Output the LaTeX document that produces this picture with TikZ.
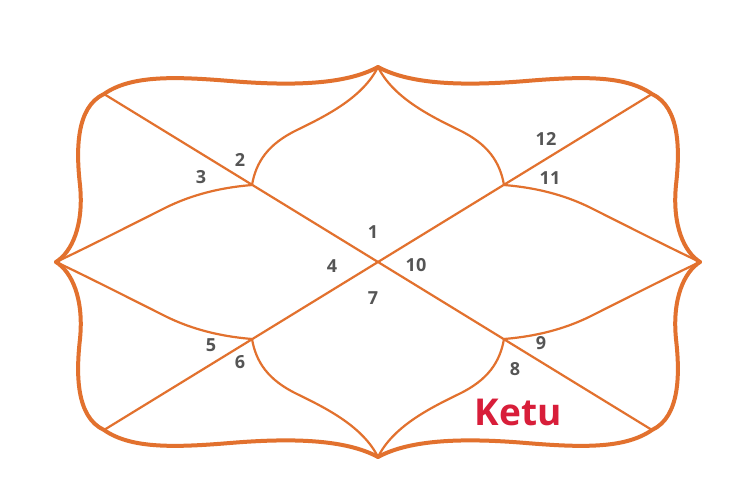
\documentclass[tikz,border=0pt]{standalone}
\usepackage{fontspec}
\setmainfont{Open Sans}
\definecolor{chartorange}{HTML}{E2712E}
\definecolor{numgrey}{HTML}{555555}
\definecolor{ketured}{HTML}{D81E3A}
\tikzset{
  frameline/.style={draw=chartorange, line width=4pt, line join=round, line cap=round},
  innerline/.style={draw=chartorange, line width=2.2pt, line join=round, line cap=round},
  housenum/.style={text=numgrey, font=\bfseries\fontsize{18}{20}\selectfont, inner sep=0pt},
  planet/.style={text=ketured, font=\bfseries\fontsize{37}{40}\selectfont, inner sep=0pt}
}
\begin{document}
\begin{tikzpicture}[x=1pt,y=1pt]
\useasboundingbox (-378,-238) rectangle (372,262);
\fill[white] (-378,-238) rectangle (372,262);
% key points
\coordinate (TL) at (-274,168);
\coordinate (TR) at (274,168);
\coordinate (BL) at (-274,-168);
\coordinate (BR) at (274,-168);
\coordinate (C) at (0,0);
% frame and inner curves, one quadrant reflected four times
\foreach \sx/\sy in {1/1,-1/1,1/-1,-1/-1}{
  \begin{scope}[xscale=\sx, yscale=\sy]
    \draw[frameline] (-322,0) .. controls (-306,10) and (-294,37) .. (-298,77)
      .. controls (-302,112) and (-302,155) .. (-274,168)
      .. controls (-248,186) and (-208,186) .. (-148,181)
      .. controls (-88,176) and (-33,177) .. (0,195);
    \draw[innerline] (-126,77) .. controls (-122,100) and (-110,118) .. (-81,132)
      .. controls (-50,147) and (-15,165) .. (0,195);
    \draw[innerline] (-126,77) .. controls (-150,75) and (-180,70) .. (-211,55)
      .. controls (-245,38) and (-290,15) .. (-322,0);
  \end{scope}
}
% diagonals
\draw[innerline] (TL) -- (C) -- (BR);
\draw[innerline] (BL) -- (C) -- (TR);
% house numbers
\node[housenum] (h1) at (-5,30) {1};
\node[housenum] (h2) at (-138,102) {2};
\node[housenum] (h3) at (-177,85) {3};
\node[housenum] (h4) at (-46,-4) {4};
\node[housenum] (h5) at (-167,-83) {5};
\node[housenum] (h6) at (-138,-100) {6};
\node[housenum] (h7) at (-5,-36) {7};
\node[housenum] (h8) at (137,-107) {8};
\node[housenum] (h9) at (163,-81) {9};
\node[housenum] (h10) at (38,-3) {10};
\node[housenum] (h11) at (172,84) {11};
\node[housenum] (h12) at (168,123) {12};
\node[planet] (ketu) at (140,-150) {Ketu};
\end{tikzpicture}
\end{document}
